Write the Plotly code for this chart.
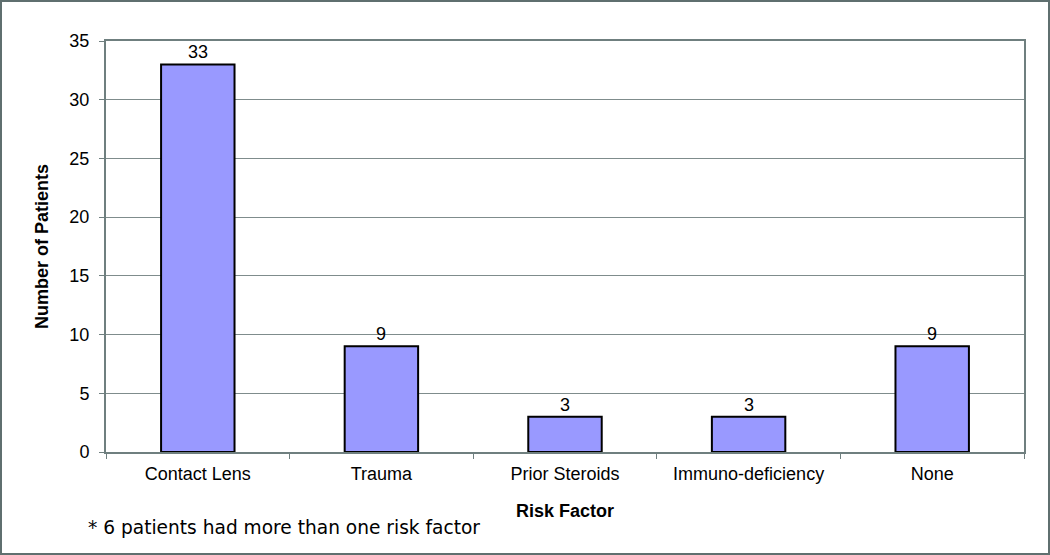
import plotly.graph_objects as go

categories = ["Contact Lens", "Trauma", "Prior Steroids", "Immuno-deficiency", "None"]
patients = [33, 9, 3, 3, 9]
y_ticks = [0, 5, 10, 15, 20, 25, 30, 35]

L, R, T, B = 106, 26, 41, 103
W, H = 1050, 555
pw, ph = W - L - R, H - T - B

fig = go.Figure(go.Bar(
    x=categories, y=patients,
    marker=dict(color="#9999FF", line=dict(color="#000000", width=2)),
    width=0.40,
))

for c, v in zip(categories, patients):
    fig.add_annotation(
        x=c, y=v, text=str(v), showarrow=False, xanchor="center",
        yanchor="bottom", yshift=0,
        font=dict(family="Liberation Sans, Arial", size=18, color="#000"),
    )

axis_col = "#6f7f7f"
fig.update_layout(
    width=W, height=H, margin=dict(l=L, r=R, t=T, b=B),
    paper_bgcolor="white", plot_bgcolor="white", showlegend=False,
    font=dict(family="Liberation Sans, Arial", size=18, color="#000"),
    xaxis=dict(
        showline=True, linecolor=axis_col, linewidth=2, mirror=True,
        ticks="outside", tickson="boundaries", ticklen=5, tickcolor=axis_col,
        tickfont=dict(size=18), showgrid=False, ticklabelstandoff=4,
        title=dict(text="<b>Risk Factor</b>", font=dict(size=18), standoff=22),
    ),
    yaxis=dict(
        range=[0, 35], tickvals=y_ticks, showline=True, linecolor=axis_col,
        linewidth=2, mirror=True, ticks="outside", ticklen=5, tickcolor=axis_col,
        showgrid=True, gridcolor="#7f8c8c", gridwidth=1, zeroline=False,
        tickfont=dict(size=18), ticklabelstandoff=6,
        title=dict(text="<b>Number of Patients</b>", font=dict(size=18), standoff=16),
    ),
)

fig.add_annotation(
    text="* 6 patients had more than one risk factor",
    xref="paper", yref="paper",
    x=(86 - L) / pw, y=-(527 - (T + ph)) / ph,
    xanchor="left", yanchor="middle", showarrow=False,
    font=dict(family="DejaVu Sans, Verdana", size=18.6, color="#000"),
)

fig.add_shape(
    type="rect", xref="paper", yref="paper",
    x0=(1 - L) / pw, x1=(W - 1 - L) / pw,
    y0=-(H - 1 - (T + ph)) / ph, y1=1 + (T - 1) / ph,
    line=dict(color="#5f6f6f", width=2), fillcolor="rgba(0,0,0,0)", layer="below",
)

fig.write_html(
    "out.html",
    config={"displayModeBar": False},
    post_script="document.body.style.margin='0';document.body.style.padding='0';document.documentElement.style.overflow='hidden';",
)
